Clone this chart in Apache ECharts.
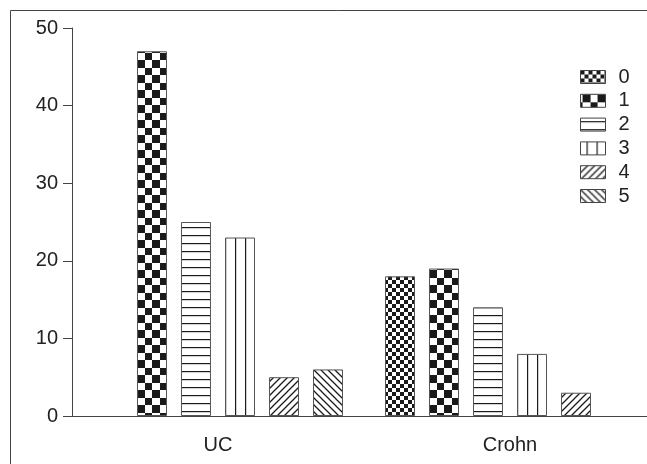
<!DOCTYPE html>
<html>
<head>
<meta charset="utf-8">
<script src="https://cdn.jsdelivr.net/npm/echarts@6/dist/echarts.min.js"></script>
<style>
html,body{margin:0;padding:0;background:#fff;overflow:hidden;width:647px;height:464px;}
#chart{width:664px;height:464px;}
</style>
</head>
<body>
<div id="chart"></div>
<script>
var categories = ['UC', 'Crohn'];
var seriesNames = ['0', '1', '2', '3', '4', '5'];
var values0 = [0, 18];
var values1 = [47, 19];
var values2 = [25, 14];
var values3 = [23, 8];
var values4 = [5, 3];
var values5 = [6, 0];
var yTicks = [0, 10, 20, 30, 40, 50];

var INK = '#1a1a1a';
function makeCanvas(w, h, draw) {
  var c = document.createElement('canvas');
  c.width = w; c.height = h;
  var ctx = c.getContext('2d');
  ctx.fillStyle = '#fff';
  ctx.fillRect(0, 0, w, h);
  ctx.fillStyle = INK;
  ctx.strokeStyle = INK;
  draw(ctx, w, h);
  return c;
}
// Period of the tiles along x equals (a divisor of) the category band so both groups look alike.
var PERIOD = 292;
var patterns = [
  // 0: fine checkerboard
  makeCanvas(8, 8, function (ctx) {
    ctx.fillRect(0, 0, 4, 4);
    ctx.fillRect(4, 4, 4, 4);
  }),
  // 1: coarse checkerboard (alternating 8/7 px squares)
  makeCanvas(PERIOD, 15, function (ctx, w) {
    var x = 137 - 15 * 10, col = 0;
    while (x < w) {
      var cw = (col % 2 === 0) ? 8 : 7;
      if (col % 2 === 0) { ctx.fillRect(x, 0, cw, 8); } else { ctx.fillRect(x, 8, cw, 7); }
      x += cw; col++;
    }
  }),
  // 2: horizontal lines
  makeCanvas(8, 8, function (ctx) {
    ctx.fillRect(0, 3, 8, 1.2);
  }),
  // 3: vertical lines
  makeCanvas(PERIOD / 4, 8, function (ctx, w) {
    for (var x = 6; x < w; x += 10) { ctx.fillRect(x, 0, 1.2, 8); }
  }),
  // 4: forward diagonal
  makeCanvas(7, 7, function (ctx, w, h) {
    ctx.lineWidth = 1.3;
    ctx.beginPath();
    ctx.moveTo(-1, h + 1); ctx.lineTo(w + 1, -1);
    ctx.moveTo(-1, 1); ctx.lineTo(1, -1);
    ctx.moveTo(w - 1, h + 1); ctx.lineTo(w + 1, h - 1);
    ctx.stroke();
  }),
  // 5: back diagonal
  makeCanvas(7, 7, function (ctx, w, h) {
    ctx.lineWidth = 1.3;
    ctx.beginPath();
    ctx.moveTo(-1, -1); ctx.lineTo(w + 1, h + 1);
    ctx.moveTo(w - 1, -1); ctx.lineTo(w + 1, 1);
    ctx.moveTo(-1, h - 1); ctx.lineTo(1, h + 1);
    ctx.stroke();
  })
];
var allValues = [values0, values1, values2, values3, values4, values5];

var chart = echarts.init(document.getElementById('chart'), null, {renderer: 'canvas'});
var font = 'Liberation Sans, Arial, sans-serif';
var option = {
  animation: false,
  backgroundColor: '#fff',
  graphic: [{
    type: 'rect',
    shape: {x: 10.5, y: 10.5, width: 700, height: 600},
    style: {fill: 'none', stroke: '#444', lineWidth: 1},
    silent: true,
    z: -1
  }],
  grid: {left: 72, top: 28, width: 584, bottom: 48, containLabel: false},
  legend: {
    orient: 'vertical',
    left: 580,
    top: 67,
    padding: 0,
    itemWidth: 25,
    itemHeight: 13,
    itemGap: 3.8,
    icon: 'rect',
    data: seriesNames,
    itemStyle: {borderColor: '#444', borderWidth: 1},
    textStyle: {fontFamily: font, fontSize: 20, color: '#222', padding: [0, 0, 0, 8], lineHeight: 18}
  },
  xAxis: {
    type: 'category',
    data: categories,
    axisLine: {lineStyle: {color: '#444', width: 1}},
    axisTick: {alignWithLabel: true, length: 8, lineStyle: {color: '#444'}},
    axisLabel: {fontFamily: font, fontSize: 20, color: '#222', margin: 19}
  },
  yAxis: {
    type: 'value',
    min: yTicks[0],
    max: yTicks[yTicks.length - 1],
    interval: yTicks[1] - yTicks[0],
    splitLine: {show: false},
    axisLine: {show: true, lineStyle: {color: '#444', width: 1}},
    axisTick: {show: true, length: 9, lineStyle: {color: '#444'}},
    axisLabel: {fontFamily: font, fontSize: 20, color: '#222', margin: 14}
  },
  series: seriesNames.map(function (name, i) {
    return {
      name: name,
      type: 'bar',
      data: allValues[i].map(function (v) {
        return v === 0 ? {value: v, itemStyle: {borderWidth: 0, opacity: 0}} : v;
      }),
      barWidth: 30,
      barGap: '46.67%',
      itemStyle: {
        color: {image: patterns[i], repeat: 'repeat'},
        borderColor: '#555',
        borderWidth: 1
      }
    };
  })
};
chart.setOption(option);
</script>
</body>
</html>
